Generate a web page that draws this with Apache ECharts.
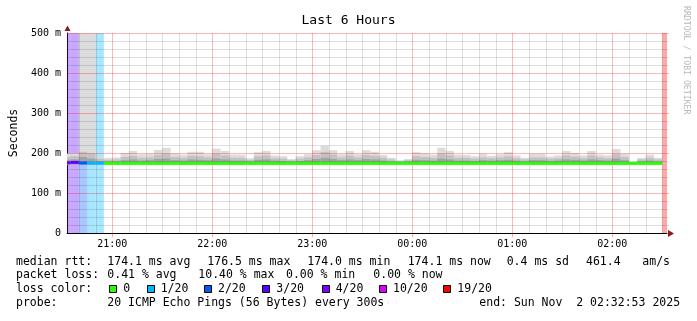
<!DOCTYPE html>
<html><head><meta charset="utf-8">
<script src="https://cdn.jsdelivr.net/npm/echarts@6/dist/echarts.min.js"></script>
<style>html,body{margin:0;padding:0;background:#fff}#c{width:697px;height:321px}</style>
</head><body><div id="c"></div>
<script>
// 5-minute step start times
const stepTimes = ['20:30','20:35','20:40','20:45','20:50','20:55',
 '21:00','21:05','21:10','21:15','21:20','21:25','21:30','21:35','21:40','21:45','21:50','21:55',
 '22:00','22:05','22:10','22:15','22:20','22:25','22:30','22:35','22:40','22:45','22:50','22:55',
 '23:00','23:05','23:10','23:15','23:20','23:25','23:30','23:35','23:40','23:45','23:50','23:55',
 '00:00','00:05','00:10','00:15','00:20','00:25','00:30','00:35','00:40','00:45','00:50','00:55',
 '01:00','01:05','01:10','01:15','01:20','01:25','01:30','01:35','01:40','01:45','01:50','01:55',
 '02:00','02:05','02:10','02:15','02:20','02:25','02:30'];
// smoke (ms): top of outer, middle and inner smoke, and bottom
const smokeMax = [199,199,600,600,191,188,
 189,200,205,197,198,208,213,199,196,203,203,197,
 211,205,196,196,187,202,205,194,192,185,192,197,
 207,218,207,197,205,197,207,203,195,188,182,185,
 202,199,196,213,205,196,195,192,198,193,197,202,
 194,188,198,198,191,194,205,200,194,205,196,194,
 210,198,178,188,196,188,null];
const smokeMid = [190,192,203,199,186,183,
 184,190,193,188,189,195,198,190,188,193,192,189,
 198,194,188,188,183,192,194,187,186,182,186,189,
 195,203,196,189,194,189,195,193,188,184,180,182,
 192,190,188,198,194,188,188,186,189,187,189,192,
 187,184,189,189,186,187,194,191,187,194,189,187,
 197,190,177,184,188,184,null];
const smokeDark = [183,184,190,186,180,179,
 179,182,184,181,182,185,186,182,181,184,183,182,
 186,184,181,181,179,183,184,181,180,179,180,182,
 185,188,185,182,184,182,185,184,181,179,178,179,
 183,182,181,186,184,181,181,180,182,181,182,183,
 181,179,182,182,180,181,184,183,181,184,182,181,
 186,182,176,179,181,179,null];
const smokeMin = [171,171,171,171,172,172,
 172,172,172,172,172,172,172,172,172,172,172,172,
 172,172,172,172,172,172,172,172,172,172,172,172,
 172,172,172,172,172,172,172,172,172,172,172,172,
 172,172,172,172,172,172,172,172,172,172,172,172,
 172,172,172,172,172,172,172,172,172,172,172,172,
 172,172,172,172,172,172,null];
const medianRtt = [175.5,176.5,175.0,174.6,174.3,174.1,
 174.1,174.0,174.1,174.2,174.1,174.0,174.1,174.1,174.0,174.1,174.2,174.1,
 174.1,174.1,174.0,174.1,174.1,174.2,174.1,174.0,174.1,174.1,174.1,174.0,
 174.1,174.2,174.1,174.1,174.0,174.1,174.1,174.1,174.0,174.1,174.1,174.1,
 174.0,174.1,174.1,174.2,174.1,174.1,174.0,174.1,174.1,174.1,174.0,174.1,
 174.1,174.1,174.0,174.1,174.1,174.1,174.2,174.1,174.0,174.1,174.1,174.1,
 174.1,174.0,174.1,174.1,174.1,174.1,null];
const lossPings = [3,3,2,1,1,0,
 0,0,0,0,0,0,0,0,0,0,0,0,
 0,0,0,0,0,0,0,0,0,0,0,0,
 0,0,0,0,0,0,0,0,0,0,0,0,
 0,0,0,0,0,0,0,0,0,0,0,0,
 0,0,0,0,0,0,0,0,0,0,0,0,
 0,0,0,0,0,0,19];
// axes (minutes after 20:00)
const hourTicks = [60,120,180,240,300,360];
const tenMinLines = [40,50,60,70,80,90,100,110,120,130,140,150,160,170,180,190,200,210,220,230,240,250,260,270,280,290,300,310,320,330,340,350,360,370,380,390];
const yTicks = [0,100,200,300,400,500];
const yLines = [20,40,60,80,100,120,140,160,180,200,220,240,260,280,300,320,340,360,380,400,420,440,460,480,500];
const lossLegend = ['0','1/20','2/20','3/20','4/20','10/20','19/20'];
const lossLegendPings = [0,1,2,3,4,10,19];
const lossColors = ['#26ff00','#00b8ff','#0059ff','#5e00ff','#7e00ff','#dd00ff','#ff0000'];
const legendRows = [
 [[16,'median rtt:'],[107.3,'174.1 ms avg'],[207.3,'176.5 ms max'],[307.3,'174.0 ms min'],[407.7,'174.1 ms now'],[506.7,'0.4 ms sd'],[586,'461.4'],[642.3,'am/s']],
 [[16,'packet loss:'],[107.3,'0.41 % avg'],[198.3,'10.40 % max'],[286,'0.00 % min'],[373.3,'0.00 % now']],
 [[16,'loss color:']],
 [[16,'probe:'],[107.3,'20 ICMP Echo Pings (56 Bytes) every 300s'],[479.3,'end: Sun Nov  2 02:32:53 2025']]
];
const legendRowY = [262, 275.5, 289.3, 302.7];
const lossBoxX = [109.3,146.7,204,262.3,321.7,379,443.3];

const START = 32 + 53/60, END = START + 360;
const FONT = 'DejaVu Sans Mono';
function toMin(s){const p=s.split(':').map(Number);return ((p[0]<20?p[0]+24:p[0])-20)*60+p[1];}
function lossColor(p){let c=lossColors[0];lossLegendPings.forEach((t,i)=>{if(p>=t)c=lossColors[i];});return c;}
function hexA(hex,a){const n=parseInt(hex.slice(1),16);return 'rgba('+(n>>16)+','+((n>>8)&255)+','+(n&255)+','+a+')';}

const steps = stepTimes.map((s,i)=>({t0:toMin(s), t1:toMin(s)+5, i}));
function rectRender(fill){
  return function(params, api){
    const a = api.coord([api.value(0), api.value(3)]);
    const b = api.coord([api.value(1), api.value(2)]);
    const shape = echarts.graphic.clipRectByRect({x:a[0],y:a[1],width:b[0]-a[0],height:b[1]-a[1]}, params.coordSys);
    if(!shape) return null;
    return {type:'rect', shape, style:{fill: fill || api.value(4)}};
  };
}
const bgData = steps.filter(s=>lossPings[s.i]>0).map(s=>[s.t0,s.t1,0,500,hexA(lossColor(lossPings[s.i]),0.34)]);
const layer = (top)=>steps.filter(s=>top[s.i]!=null).map(s=>[s.t0,s.t1,smokeMin[s.i],top[s.i]]);
const medData = steps.filter(s=>medianRtt[s.i]!=null).map(s=>[s.t0,s.t1,medianRtt[s.i],lossPings[s.i]]);

const chart = echarts.init(document.getElementById('c'), null, {renderer:'canvas'});
const graphics = [];
legendRows.forEach((row,r)=>row.forEach(([x,t])=>graphics.push({type:'text',x,y:legendRowY[r],style:{text:t,font:'11.5px "'+FONT+'"',fill:'#000',textVerticalAlign:'middle'}})));
lossLegend.forEach((t,i)=>{
  graphics.push({type:'rect',shape:{x:Math.round(lossBoxX[i])+0.5,y:285.5,width:7,height:7},style:{fill:lossColors[i],stroke:'#000',lineWidth:1}});
  graphics.push({type:'text',x:lossBoxX[i]+14,y:legendRowY[2],style:{text:t,font:'11.5px "'+FONT+'"',fill:'#000',textVerticalAlign:'middle'}});
});
graphics.push({type:'text',x:686,y:6,rotation:-Math.PI/2,style:{text:'RRDTOOL / TOBI OETIKER',font:'8.2px "'+FONT+'"',fill:'#b8b8b8',textVerticalAlign:'middle'}});
graphics.push({type:'polygon',shape:{points:[[668,230],[674,233.5],[668,237]]},style:{fill:'#8b1a1a'}});
graphics.push({type:'polygon',shape:{points:[[64.5,31],[67.5,25.5],[70.5,31]]},style:{fill:'#8b1a1a'}});

chart.setOption({
  animation:false,
  backgroundColor:'#fff',
  title:{text:'Last 6 Hours',left:'center',top:9,textStyle:{fontFamily:FONT,fontSize:13,fontWeight:'normal',color:'#000'}},
  grid:{left:67,top:33,width:600,height:200},
  xAxis:{type:'value',min:START,max:END,
    axisLine:{show:true,lineStyle:{color:'#000',width:1}},
    axisTick:{show:true,customValues:hourTicks,length:4,lineStyle:{color:'rgba(255,0,0,0.35)'}},
    axisLabel:{customValues:hourTicks,margin:6,fontFamily:FONT,fontSize:10,color:'#000',
      formatter:v=>String((20+Math.round(v/60))%24).padStart(2,'0')+':00'},
    splitLine:{show:false}},
  yAxis:{type:'value',min:0,max:500,interval:100,
    name:'Seconds',nameLocation:'middle',nameGap:46,nameRotate:90,
    nameTextStyle:{fontFamily:FONT,fontSize:11.5,color:'#000'},
    axisLine:{show:true,lineStyle:{color:'#000',width:1}},
    axisTick:{show:false},
    axisLabel:{margin:6,fontFamily:FONT,fontSize:10,color:'#000',formatter:v=>v===0?'0':v+' m'},
    splitLine:{show:false}},
  graphic:graphics,
  series:[
    {type:'custom',z:1,silent:true,renderItem:rectRender(null),data:bgData},
    {type:'custom',z:2,silent:true,renderItem:rectRender('#dcdcdc'),data:layer(smokeMax)},
    {type:'custom',z:2,silent:true,renderItem:rectRender('#c2c2c2'),data:layer(smokeMid)},
    {type:'custom',z:2,silent:true,renderItem:rectRender('#a2a2a2'),data:layer(smokeDark)},
    {type:'custom',z:3,silent:true,data:tenMinLines,
      renderItem:(params,api)=>{const v=api.value(0);const a=api.coord([v,0]),b=api.coord([v,500]);const x=Math.round(a[0])+0.5;
        return {type:'line',shape:{x1:x,y1:a[1],x2:x,y2:b[1]},style:{stroke:v%60===0?'rgba(255,0,0,0.28)':'rgba(0,0,0,0.12)',lineWidth:1}};}},
    {type:'custom',z:3,silent:true,data:yLines,
      renderItem:(params,api)=>{const v=api.value(0);const a=api.coord([START,v]),b=api.coord([END,v]);const y=Math.round(a[1])+0.5;
        return {type:'line',shape:{x1:a[0],y1:y,x2:b[0]+2,y2:y},style:{stroke:v%100===0?'rgba(255,0,0,0.28)':'rgba(0,0,0,0.12)',lineWidth:1}};}},
    {type:'custom',z:4,silent:true,data:medData,
      renderItem:(params,api)=>{const p=api.coord([api.value(0),api.value(2)]),q=api.coord([api.value(1),api.value(2)]);
        const shape=echarts.graphic.clipRectByRect({x:p[0],y:p[1]-1.5,width:q[0]-p[0],height:3},params.coordSys);
        if(!shape)return null;return {type:'rect',shape,style:{fill:lossColor(api.value(3))}};}}
  ]
});
</script></body></html>
